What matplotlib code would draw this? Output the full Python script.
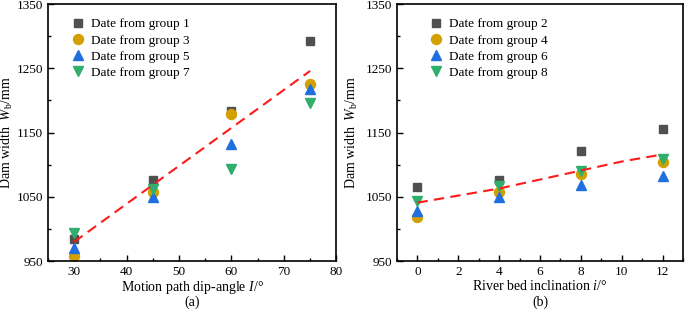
import matplotlib
matplotlib.use("Agg")
import matplotlib.pyplot as plt
from matplotlib.ticker import MultipleLocator

plt.rcParams["font.family"] = ["Liberation Serif", "DejaVu Serif"]
plt.rcParams["mathtext.fontset"] = "custom"
plt.rcParams["mathtext.rm"] = "Liberation Serif"
plt.rcParams["mathtext.it"] = "Liberation Serif:italic"
plt.rcParams["font.size"] = 9.5

# panel (a): motion path dip-angle
angle = [30, 45, 60, 75]
g1 = [984, 1077, 1184, 1293]
g3 = [958, 1058, 1179, 1225]
g5 = [971, 1050, 1133, 1218]
g7 = [994, 1063, 1094, 1196]
fit_a_x = [30, 75]
fit_a_y = [980, 1246]

# panel (b): river bed inclination
incl = [0, 4, 8, 12]
g2 = [1065, 1076, 1122, 1156]
g4 = [1019, 1058, 1086, 1105]
g6 = [1028, 1050, 1068, 1083]
g8 = [1044, 1067, 1091, 1109]
fit_b_x = [0, 2, 4, 6, 8, 10, 12]
fit_b_y = [1041, 1052, 1063, 1077, 1091, 1105, 1116]

C_SQ, C_CI, C_UP, C_DN = "#505050", "#d49f00", "#1f6fe0", "#2fae6c"
styles = [("s", C_SQ, 5.5), ("o", C_CI, 7.2), ("^", C_UP, 6.5), ("v", C_DN, 6.5)]

fig = plt.figure(figsize=(6.85, 3.12), dpi=100)
ax_a = fig.add_axes([0.070, 0.163, 0.421, 0.824])
ax_b = fig.add_axes([0.5796, 0.163, 0.4175, 0.824])


def panel(ax, x, groups, labels, fx, fy, xlim, xmaj, xmin, xlabel, tag, lx, ylx):
    ax.plot(fx, fy, ls=(0, (5, 3)), color="#ff1a1a", lw=1.5, zorder=3)
    for (m, c, s), y, lab in zip(styles, groups, labels):
        ax.plot(x, y, ls="none", marker=m, color=c, ms=s, label=lab, zorder=2)
    ax.set_xlim(*xlim)
    ax.set_ylim(950, 1350)
    ax.xaxis.set_major_locator(MultipleLocator(xmaj))
    ax.xaxis.set_minor_locator(MultipleLocator(xmin))
    ax.set_yticks([950, 1050, 1150, 1250, 1350])
    ax.yaxis.set_minor_locator(MultipleLocator(50))
    ax.tick_params(which="both", direction="in", top=False, right=False,
                   width=1.0, labelsize=9.5)
    ax.tick_params(which="major", length=4)
    ax.tick_params(which="minor", length=2.5)
    for sp in ax.spines.values():
        sp.set_linewidth(1.2)
    ax.set_ylabel(r"Dam width  $W_\mathrm{b}$/mm", fontsize=10)
    ax.yaxis.set_label_coords(ylx, 0.5)
    ax.set_xlabel(xlabel, fontsize=10, labelpad=1)
    ax.text(0.5, -0.16, tag, transform=ax.transAxes, ha="center", va="center",
            fontsize=10)
    ax.legend(loc="upper left", bbox_to_anchor=(lx, 0.945), frameon=False,
              handletextpad=0.4, labelspacing=0.3, fontsize=9.5,
              handlelength=1.2, borderaxespad=0, borderpad=0)


panel(ax_a, angle, [g1, g3, g5, g7],
      ["Date from group 1", "Date from group 3", "Date from group 5", "Date from group 7"],
      fit_a_x, fit_a_y, (25, 80), 10, 5, r"Motion path dip-angle $I$/°", "(a)",
      0.076, -0.113)
panel(ax_b, incl, [g2, g4, g6, g8],
      ["Date from group 2", "Date from group 4", "Date from group 6", "Date from group 8"],
      fit_b_x, fit_b_y, (-1, 13), 2, 1, r"River bed inclination $i$/°", "(b)",
      0.108, -0.13)

fig.savefig("out.png", dpi=100)
